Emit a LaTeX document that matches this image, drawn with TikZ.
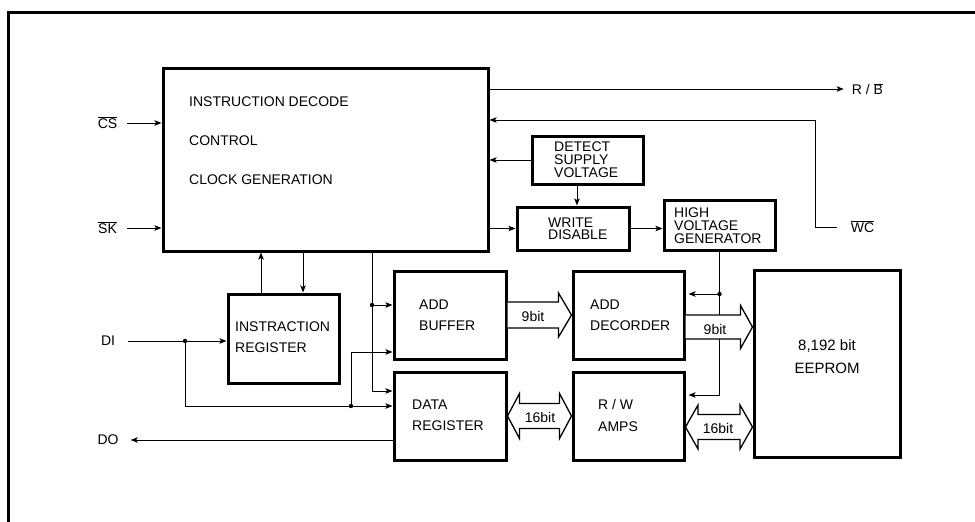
\documentclass[tikz,border=0pt]{standalone}
\usepackage{fontspec}
\setmainfont{Liberation Sans}
\usetikzlibrary{arrows.meta,calc}
\newcommand\ovl[1]{$\overline{\mbox{#1}}$}
\newcommand\busone[5]{%
  \fill[white] ($(#1)+(0,-#3)$) -- ($(#2)+(-#5,-#3)$) -- ($(#2)+(-#5,-#4)$) -- (#2) -- ($(#2)+(-#5,#4)$) -- ($(#2)+(-#5,#3)$) -- ($(#1)+(0,#3)$) -- cycle;
  \draw[bus] ($(#1)+(0,-#3)$) -- ($(#2)+(-#5,-#3)$) -- ($(#2)+(-#5,-#4)$) -- (#2) -- ($(#2)+(-#5,#4)$) -- ($(#2)+(-#5,#3)$) -- ($(#1)+(0,#3)$);}
\newcommand\bustwo[5]{%
  \filldraw[bus,fill=white] (#1) -- ($(#1)+(#5,-#4)$) -- ($(#1)+(#5,-#3)$) -- ($(#2)+(-#5,-#3)$) -- ($(#2)+(-#5,-#4)$) -- (#2) -- ($(#2)+(-#5,#4)$) -- ($(#2)+(-#5,#3)$) -- ($(#1)+(#5,#3)$) -- ($(#1)+(#5,#4)$) -- cycle;}
\begin{document}
\begin{tikzpicture}[x=1pt,y=-1pt,font=\fontsize{14}{21}\selectfont,
  box/.style={draw,line width=3pt,inner sep=0pt},
  txt/.style={anchor=west,align=left,inner sep=0pt},
  lbl/.style={inner sep=0pt},
  wire/.style={line width=1pt},
  arr/.style={wire,-{Stealth[length=7pt,width=5.5pt,inset=1.5pt]}},
  bus/.style={line width=1.3pt},
  tight/.style={font=\fontsize{14}{13}\selectfont}]
\useasboundingbox (0,0) rectangle (975,522);
\draw[line width=3pt] (8,522) -- (8,12) -- (975,12);

% boxes
\node[box,minimum width=325pt,minimum height=183pt] (main) at (325.5,159.5) {};
\node[box,minimum width=111pt,minimum height=48pt] (det) at (587.5,160) {};
\node[box,minimum width=112pt,minimum height=43pt] (wd) at (573,228.5) {};
\node[box,minimum width=111pt,minimum height=50pt] (hvg) at (719.5,225) {};
\node[box,minimum width=111pt,minimum height=89pt] (ir) at (283.5,338.5) {};
\node[box,minimum width=112pt,minimum height=88pt] (abuf) at (450,315) {};
\node[box,minimum width=112pt,minimum height=88pt] (dreg) at (450,416) {};
\node[box,minimum width=111pt,minimum height=88pt] (adec) at (628.5,315) {};
\node[box,minimum width=111pt,minimum height=88pt] (rw) at (628.5,416) {};
\node[box,minimum width=146pt,minimum height=187pt] (eep) at (827,363.5) {};

% box texts
\node[txt] (t1) at (189,102) {INSTRUCTION DECODE};
\node[txt] (t2) at (189,141) {CONTROL};
\node[txt] (t3) at (189,180) {CLOCK GENERATION};
\node[txt,tight] (tdet) at (554,160) {DETECT\\SUPPLY\\VOLTAGE};
\node[txt,font=\fontsize{14}{12.5}\selectfont] (twd) at (548,228.5) {WRITE\\DISABLE};
\node[txt,tight] (thvg) at (674,225.4) {HIGH\\VOLTAGE\\GENERATOR};
\node[txt] (tir) at (235,337.5) {INSTRACTION\\REGISTER};
\node[txt] (tabuf) at (419,315.5) {ADD\\BUFFER};
\node[txt] (tdreg) at (412,415.5) {DATA\\REGISTER};
\node[txt] (tadec) at (590,315.5) {ADD\\DECORDER};
\node[txt,font=\fontsize{14}{22}\selectfont] (trw) at (598,415) {R / W\\AMPS};
\node[lbl,align=center,font=\fontsize{15}{23}\selectfont] (teep) at (827,356.5) {8,192 bit\\EEPROM};

% outside labels
\node[lbl] (cs) at (107.5,123) {\ovl{CS}};
\node[lbl] (sk) at (107.5,228) {\ovl{SK}};
\node[lbl] (di) at (108,341) {DI};
\node[lbl] (do) at (108,440) {DO};
\node[lbl] (rb) at (867.5,89) {R / \ovl{B}};
\node[lbl] (wc) at (862.5,227) {\ovl{WC}};

% coordinates
\coordinate (wcb) at (815,120);
\coordinate (hv1) at (719.5,294);
\coordinate (hv2) at (719.5,395);
\coordinate (j1) at (185,341);
\coordinate (j2) at (351,406);
\coordinate (j2t) at (351,352);
\coordinate (j3) at (372,305);
\coordinate (c391) at (372,391);

% wires
\draw[arr] ([xshift=10pt]cs.east) -- (cs.east -| main.west);
\draw[arr] ([xshift=10pt]sk.east) -- (sk.east -| main.west);
\draw[arr] (rb.west -| main.east) -- ([xshift=-8pt]rb.west);
\draw[arr] ([xshift=-14pt]wc.west) -| (wcb) -- (wcb -| main.east);
\draw[arr] (det.west) -- (det.west -| main.east);
\draw[arr] ([xshift=-10.5pt]det.south) -- ([xshift=-10.5pt]det.south |- wd.north);
\draw[arr] (main.east |- wd.west) -- (wd.west);
\draw[arr] (wd.east) -- (wd.east -| hvg.west);
\draw[wire] (hvg.south) -- (hv2);
\draw[arr,shorten >=3pt] (hv2) -- (hv2 -| rw.east);
\draw[arr,shorten >=3pt] (hv1) -- (hv1 -| adec.east);
\fill (hv1) circle (2.2pt);

\draw[arr] ([xshift=-22.5pt]ir.north) -- ([xshift=-22.5pt]ir.north |- main.south);
\draw[arr] ([xshift=19.5pt]ir.north |- main.south) -- ([xshift=19.5pt]ir.north);

\draw[arr] ([xshift=13pt]di.east) -- (di.east -| ir.west);
\draw[arr] (j1) |- (j2 -| dreg.west);
\draw[arr] (j2) -- (j2t) -- (j2t -| abuf.west);
\draw[arr] (j3 |- main.south) -- (c391) -- (c391 -| dreg.west);
\draw[arr] (j3) -- (j3 -| abuf.west);
\draw[arr] (dreg.west |- do.east) -- ([xshift=12pt]do.east);
\fill (j1) circle (2.2pt);
\fill (j2) circle (2.2pt);
\fill (j3) circle (2.2pt);

% buses
\coordinate (b1s) at ($(adec.east)+(0,12)$);
\coordinate (b1e) at (b1s -| eep.west);
\coordinate (b2s) at ($(rw.east)+(0,11)$);
\coordinate (b2e) at (b2s -| eep.west);
\busone{abuf.east}{adec.west}{13}{22}{13}
\busone{b1s}{b1e}{12}{21.5}{12}
\bustwo{dreg.east}{rw.west}{12.5}{22.5}{12}
\bustwo{b2s}{b2e}{12.5}{22}{12.5}
\node[lbl] (l1) at (533,316) {9bit};
\node[lbl] (l2) at (715,329) {9bit};
\node[lbl] (l3) at (540,417) {16bit};
\node[lbl] (l4) at (718,428) {16bit};
\end{tikzpicture}
\end{document}
